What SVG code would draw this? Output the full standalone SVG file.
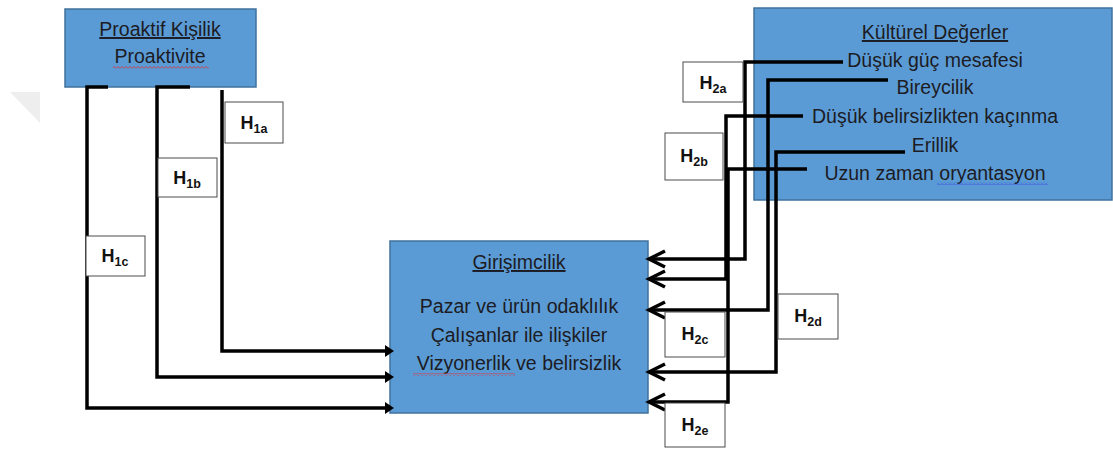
<svg xmlns="http://www.w3.org/2000/svg" width="1113" height="451" viewBox="0 0 1113 451">
  <style>
    .blk { fill: #5b9bd5; stroke: #41719c; stroke-width: 1.5; }
    .txt { font-family: "Liberation Sans", Arial, sans-serif; font-size: 19.5px; fill: #1c1c24; text-anchor: middle; }
    .ttl { text-decoration: underline; }
    .lbl rect { fill: #ffffff; stroke: #4a4a4a; stroke-width: 1; }
    .lbl text { font-family: "Liberation Sans", Arial, sans-serif; font-weight: bold; font-size: 18px; fill: #111; text-anchor: middle; }
    .lbl tspan.sub { font-size: 12.5px; }
    .wire { fill: none; stroke: #000; stroke-width: 3.5; stroke-linejoin: miter; }
    .in { marker-end: url(#tri); }
    .out { marker-end: url(#chev); }
  </style>
  <defs>
    <marker id="tri" markerUnits="userSpaceOnUse" viewBox="0 0 10 12" markerWidth="10" markerHeight="12" refX="1" refY="6" orient="auto">
      <path d="M0,0 L9,6 L0,12 z" fill="#000"/>
    </marker>
    <marker id="chev" markerUnits="userSpaceOnUse" viewBox="-20 -11 26 22" markerWidth="26" markerHeight="22" refX="0" refY="0" orient="auto">
      <path d="M-16,-8 L0,0 L-16,8" fill="none" stroke="#000" stroke-width="3.5"/>
    </marker>
    <pattern id="wavyRed" width="4" height="3" patternUnits="userSpaceOnUse">
      <path d="M0,2.5 L2,0.5 L4,2.5" fill="none" stroke="#e0303a" stroke-width="0.9"/>
    </pattern>
    <pattern id="wavyBlue" width="4" height="3" patternUnits="userSpaceOnUse">
      <path d="M0,2.5 L2,0.5 L4,2.5" fill="none" stroke="#3a4ee0" stroke-width="0.9"/>
    </pattern>
  </defs>

  <rect width="1113" height="451" fill="#ffffff"/>
  <!-- faint corner mark -->
  <polygon points="10,92 40,92 40,123" fill="#eeeeee"/>

  <g id="proaktif">
    <rect class="blk" x="65" y="9" width="191" height="78"/>
    <text class="txt ttl" x="160" y="36">Proaktif Kişilik</text>
    <text class="txt" x="160" y="63">Proaktivite</text>
    <rect x="113" y="66" width="96" height="3" fill="url(#wavyRed)"/>
  </g>

  <g id="kulturel">
    <rect class="blk" x="754" y="8" width="358" height="192"/>
    <text class="txt ttl" x="935" y="39">Kültürel Değerler</text>
    <text class="txt" x="935" y="67">Düşük güç mesafesi</text>
    <text class="txt" x="935" y="94">Bireycilik</text>
    <text class="txt" x="935" y="123">Düşük belirsizlikten kaçınma</text>
    <text class="txt" x="935" y="152">Erillik</text>
    <text class="txt" x="935" y="180">Uzun zaman oryantasyon</text>
    <rect x="937" y="182" width="111" height="3" fill="url(#wavyBlue)"/>
  </g>

  <g id="girisimcilik">
    <rect class="blk" x="390" y="241" width="258" height="172"/>
    <text class="txt ttl" x="519" y="269">Girişimcilik</text>
    <text class="txt" x="519" y="313">Pazar ve ürün odaklılık</text>
    <text class="txt" x="519" y="342">Çalışanlar ile ilişkiler</text>
    <text class="txt" x="519" y="370">Vizyonerlik ve belirsizlik</text>
    <rect x="413" y="373" width="102" height="3" fill="url(#wavyRed)"/>
  </g>

  <!-- connectors -->
  <g id="connectors">
    <path class="wire in" d="M222,90 V351 H386"/>
    <path class="wire in" d="M190,87 H157 V377 H386"/>
    <path class="wire in" d="M108,87 H87 V408 H386"/>

    <path class="wire out" d="M843,62 H745 V259 H649"/>
    <path class="wire out" d="M888,80 H768 V310 H649"/>
    <path class="wire out" d="M803,116 H726 V279 H649"/>
    <path class="wire out" d="M905,152 H776 V372 H649"/>
    <path class="wire out" d="M807,169 H728 V402 H649"/>
  </g>

  <g id="h1a" class="lbl">
    <rect x="225" y="102" width="58" height="41"/>
    <text x="254" y="129">H<tspan class="sub" dy="4">1a</tspan></text>
  </g>
  <g id="h1b" class="lbl">
    <rect x="158" y="158" width="59" height="39"/>
    <text x="187" y="184">H<tspan class="sub" dy="4">1b</tspan></text>
  </g>
  <g id="h1c" class="lbl">
    <rect x="86" y="236" width="59" height="40"/>
    <text x="115" y="262">H<tspan class="sub" dy="4">1c</tspan></text>
  </g>
  <g id="h2a" class="lbl">
    <rect x="683" y="62" width="60" height="40"/>
    <text x="713" y="89">H<tspan class="sub" dy="4">2a</tspan></text>
  </g>
  <g id="h2b" class="lbl">
    <rect x="665" y="133" width="58" height="47"/>
    <text x="694" y="162">H<tspan class="sub" dy="4">2b</tspan></text>
  </g>
  <g id="h2c" class="lbl">
    <rect x="665" y="312" width="60" height="45"/>
    <text x="695" y="340">H<tspan class="sub" dy="4">2c</tspan></text>
  </g>
  <g id="h2d" class="lbl">
    <rect x="778" y="294" width="60" height="45"/>
    <text x="808" y="322">H<tspan class="sub" dy="4">2d</tspan></text>
  </g>
  <g id="h2e" class="lbl">
    <rect x="665" y="403" width="60" height="44"/>
    <text x="695" y="431">H<tspan class="sub" dy="4">2e</tspan></text>
  </g>
</svg>
